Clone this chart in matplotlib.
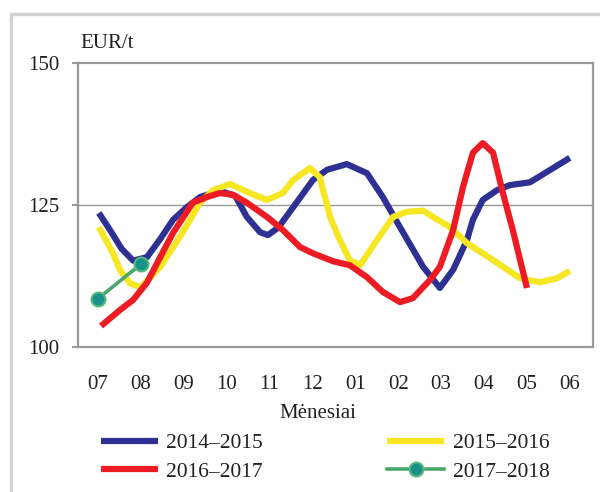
import matplotlib.pyplot as plt
from matplotlib.patches import Rectangle

# menesiai (07 ... 06), x in month index units
months = ["07", "08", "09", "10", "11", "12", "01", "02", "03", "04", "05", "06"]

m_1415 = [0.02, 0.28, 0.55, 0.82, 1.14, 1.45, 1.75, 2.07, 2.38, 2.84, 3.2, 3.47, 3.78, 3.96, 4.2,
          4.55, 5.01, 5.34, 5.80, 6.27, 6.64, 7.04, 7.58, 7.97, 8.28, 8.60, 8.74, 8.97, 9.30, 9.6,
          10.07, 11.0]
v_1415 = [123.6, 120.6, 117.3, 115.2, 115.8, 119.0, 122.4, 124.6, 126.4, 127.5, 126.6, 122.9, 120.2,
          119.7, 121.0, 124.6, 129.4, 131.2, 132.2, 130.6, 126.4, 121.1, 114.1, 110.4, 113.6, 118.8,
          122.4, 125.9, 127.6, 128.5, 129.0, 133.3]

m_1516 = [0.02, 0.35, 0.51, 0.75, 1.0, 1.45, 1.91, 2.38, 2.68, 3.08, 3.54, 3.94, 4.31, 4.55, 4.94,
          5.17, 5.41, 5.64, 5.87, 6.11, 6.50, 6.88, 7.20, 7.58, 7.81, 8.21, 8.60, 9.21, 9.84, 10.3,
          10.7, 11.0]
v_1516 = [121.1, 116.5, 113.6, 111.2, 110.5, 114.1, 119.4, 125.4, 127.6, 128.7, 127.1, 125.9, 127.1,
          129.4, 131.5, 129.9, 122.9, 118.8, 115.3, 114.4, 118.8, 122.9, 123.8, 124.0, 122.9, 121.1,
          118.3, 115.3, 112.1, 111.4, 112.1, 113.4]

m_1617 = [0.07, 0.51, 0.82, 1.14, 1.45, 1.75, 2.21, 2.54, 2.84, 3.15, 3.47, 3.94, 4.31, 4.71, 5.01,
          5.48, 5.87, 6.27, 6.64, 7.04, 7.34, 7.74, 7.97, 8.28, 8.51, 8.74, 8.97, 9.21, 9.44, 9.67,
          10.0]
v_1617 = [103.7, 106.5, 108.3, 111.3, 115.8, 120.1, 125.4, 126.4, 127.1, 126.8, 125.4, 122.9, 120.6,
          117.6, 116.5, 115.1, 114.4, 112.3, 109.7, 107.9, 108.6, 111.8, 114.1, 120.6, 128.2, 134.2,
          135.9, 134.2, 127.1, 120.6, 110.4]

m_1718 = [0, 1]
v_1718 = [108.5, 114.6]

plt.rcParams['font.family'] = ['Liberation Serif', 'DejaVu Serif']
txt = '#231f20'

fig = plt.figure(figsize=(6, 4.92), dpi=100)
fig.patches.append(Rectangle((11 / 600, -0.1), 1.2, 1 - 14 / 492 + 0.1, transform=fig.transFigure,
                             fill=False, edgecolor='#d3d3d3', linewidth=2.5))

ax = fig.add_axes([78 / 600, 1 - 347 / 492, 515 / 600, 284 / 492])

kw = dict(lw=4.5, solid_joinstyle='round', solid_capstyle='butt')
l1, = ax.plot(m_1415, v_1415, color='#2E3192', **kw)
l2, = ax.plot(m_1516, v_1516, color='#F7E723', **kw)
l3, = ax.plot(m_1617, v_1617, color='#ED1C24', **kw)
l4, = ax.plot(m_1718, v_1718, color='#4AA86C', lw=2.6, marker='o', markersize=10,
              markerfacecolor='#17918A', markeredgecolor='#55B878', markeredgewidth=1.5)

ax.axhline(125, color='#999999', lw=1, zorder=0)
ax.set_xlim(-0.466, 11.54)
ax.set_ylim(100, 150)
ax.set_yticks([100, 125, 150])
ax.set_xticks(range(len(months)))
ax.set_xticklabels(months)
ax.tick_params(axis='x', length=0, pad=20, labelsize=15, colors=txt)
ax.tick_params(axis='y', length=4.5, width=1.5, color='#999999', pad=9, labelsize=15,
               labelcolor=txt)
for s in ax.spines.values():
    s.set_color('#999999')
    s.set_linewidth(1.6)

fig.text(80 / 600, 1 - 43 / 492, 'EUR/t', fontsize=15, va='center', ha='left', color=txt)
fig.text(318 / 600, 1 - 413 / 492, 'Mėnesiai', fontsize=15, va='center', ha='center', color=txt)

fig.legend([l1, l3, l2, l4], ['2014–2015', '2016–2017', '2015–2016', '2017–2018'],
           ncol=2, loc='upper left', bbox_to_anchor=(101 / 600, 1 - 433 / 492), frameon=False,
           fontsize=15.5, handlelength=2.65, handletextpad=0.38, columnspacing=5.78,
           labelspacing=0.4, borderpad=0, borderaxespad=0, labelcolor=txt)

fig.savefig('out.png', dpi=100)
